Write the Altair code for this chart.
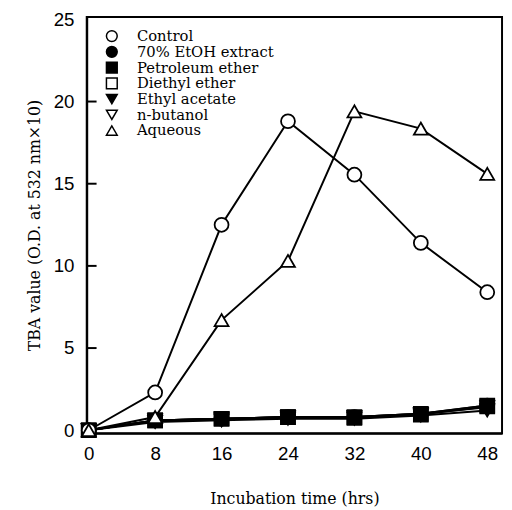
import altair as alt
import pandas as pd

hours = [0, 8, 16, 24, 32, 40, 48]
series_names = ["Control", "70% EtOH extract", "Petroleum ether", "Diethyl ether",
                "Ethyl acetate", "n-butanol", "Aqueous"]
control = [0, 2.3, 12.5, 18.8, 15.55, 11.4, 8.4]
etoh = [0, 0.6, 0.7, 0.8, 0.8, 1.0, 1.5]
petroleum = [0, 0.6, 0.7, 0.8, 0.75, 0.95, 1.45]
diethyl = [0, 0.6, 0.7, 0.8, 0.8, 1.0, 1.5]
ethyl_acetate = [0, 0.5, 0.6, 0.7, 0.7, 0.9, 1.2]
butanol = [0, 0.6, 0.7, 0.8, 0.8, 1.0, 1.4]
aqueous = [0, 0.8, 6.7, 10.3, 19.4, 18.35, 15.6]
shapes = ["circle", "circle", "square", "square", "triangle-down", "triangle-down", "triangle-up"]
fills = ["white", "black", "black", "white", "black", "white", "white"]
strokes = ["black"] * 7
draw_order = [6, 5, 4, 1, 3, 2, 7]
x_ticks = [0, 8, 16, 24, 32, 40, 48]
y_ticks = [0, 5, 10, 15, 20, 25]
inner_ticks = [5, 10, 15, 20]

all_values = [control, etoh, petroleum, diethyl, ethyl_acetate, butanol, aqueous]
rows = []
for name, vals, o in zip(series_names, all_values, draw_order):
    for h, v in zip(hours, vals):
        rows.append({"hours": h, "value": v, "series": name, "ord": o})
df = pd.DataFrame(rows)

y_domain = [-0.18, 25.15]
y_axis = alt.Axis(values=y_ticks, title="TBA value (O.D. at 532 nm×10)", grid=False,
                  ticks=False, labelFont="Liberation Sans", labelFontSize=19,
                  labelColor="black", labelPadding=13,
                  titleFont="DejaVu Serif", titleFontSize=16,
                  titleFontWeight="normal", titleColor="black", titlePadding=11)

x_enc = alt.X("hours:Q",
              scale=alt.Scale(domain=[-0.24, 49.78], nice=False, zero=False),
              axis=alt.Axis(values=x_ticks, title="Incubation time (hrs)", grid=False,
                            ticks=False, labelFont="Liberation Sans", labelFontSize=19,
                            labelColor="black", labelPadding=12,
                            titleFont="DejaVu Serif", titleFontSize=16,
                            titleFontWeight="normal", titleColor="black", titlePadding=27))
y_enc = alt.Y("value:Q", scale=alt.Scale(domain=y_domain, nice=False, zero=False),
              axis=y_axis)

lines = alt.Chart(df).mark_line(color="black", strokeWidth=2).encode(
    x=x_enc, y=y_enc, detail="series:N", order="hours:Q")

points = alt.Chart(df).mark_point(strokeWidth=1.8, opacity=1,
                                  fillOpacity=1, size=200).encode(
    x=x_enc, y=y_enc,
    shape=alt.Shape("series:N", scale=alt.Scale(domain=series_names, range=shapes),
                    legend=alt.Legend(orient="none", legendX=18, legendY=12, title=None,
                                      labelFont="DejaVu Serif", labelFontSize=15,
                                      labelColor="black", symbolSize=120,
                                      symbolStrokeWidth=1.5,
                                      labelOffset=18, padding=0, rowPadding=-3.5)),
    fill=alt.Fill("series:N", scale=alt.Scale(domain=series_names, range=fills)),
    stroke=alt.Stroke("series:N", scale=alt.Scale(domain=series_names, range=strokes)),
    order="ord:Q")

main = alt.layer(lines, points)

ticks = alt.Chart(pd.DataFrame({"tick": inner_ticks})).mark_rule(
    color="black", strokeWidth=2, opacity=1).encode(
    y=alt.Y("tick:Q", scale=alt.Scale(domain=y_domain, nice=False, zero=False), axis=None),
    x=alt.value(0), x2=alt.value(10))

chart = alt.layer(main, ticks).resolve_scale(y="independent").properties(
    width=422, height=423,
    padding={"left": 80, "top": 5, "right": 2, "bottom": 74},
    autosize=alt.AutoSizeParams(type="none"),
).configure_view(stroke="black", strokeWidth=2).configure_axis(
    domainColor="black", domainWidth=2)

chart.save("out.html", embed_options={"renderer": "svg", "actions": False})
